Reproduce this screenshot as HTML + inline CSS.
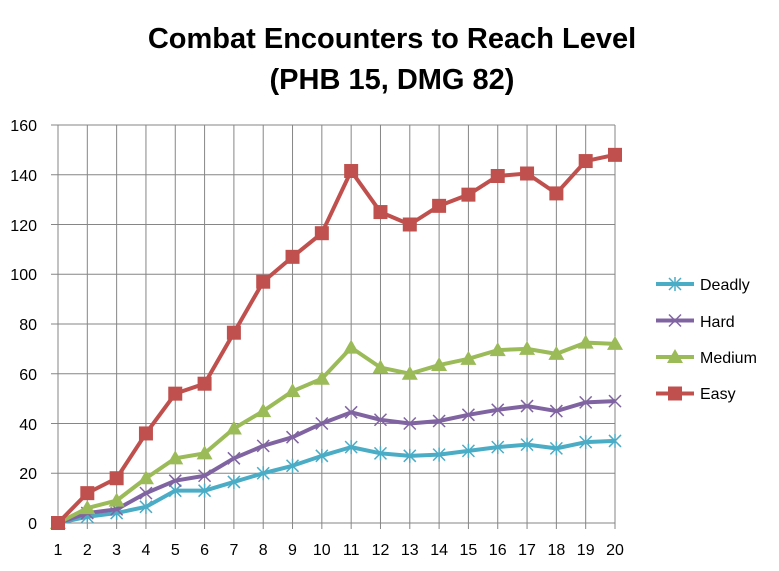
<!DOCTYPE html>
<html><head><meta charset="utf-8"><style>
body{margin:0;background:#fff;}
svg text{font-family:"Liberation Sans",sans-serif;}
</style></head><body>
<svg id="s" width="779" height="566" xmlns="http://www.w3.org/2000/svg">
<rect width="779" height="566" fill="#fff"/>
<text x="392" y="48" font-size="29" font-weight="bold" text-anchor="middle">Combat Encounters to Reach Level</text>
<text x="392" y="89" font-size="29" font-weight="bold" text-anchor="middle">(PHB 15, DMG 82)</text>
<g id="grid" stroke="#868686" stroke-width="1"></g>
<g font-size="16" text-anchor="end" fill="#000">
<text x="37" y="529">0</text><text x="37" y="479">20</text><text x="37" y="430">40</text><text x="37" y="380">60</text>
<text x="37" y="330">80</text><text x="37" y="280">100</text><text x="37" y="231">120</text><text x="37" y="181">140</text><text x="37" y="131">160</text>
</g>
<g font-size="16" text-anchor="middle" fill="#000">
<text x="58" y="555">1</text><text x="87.3" y="555">2</text><text x="116.6" y="555">3</text><text x="145.9" y="555">4</text><text x="175.3" y="555">5</text>
<text x="204.6" y="555">6</text><text x="233.9" y="555">7</text><text x="263.2" y="555">8</text><text x="292.5" y="555">9</text><text x="321.8" y="555">10</text>
<text x="351.2" y="555">11</text><text x="380.5" y="555">12</text><text x="409.8" y="555">13</text><text x="439.1" y="555">14</text><text x="468.4" y="555">15</text>
<text x="497.7" y="555">16</text><text x="527" y="555">17</text><text x="556.4" y="555">18</text><text x="585.7" y="555">19</text><text x="615" y="555">20</text>
</g>
<g id="series"></g>
<g font-size="16" fill="#000">
<text x="700" y="290">Deadly</text><text x="700" y="327">Hard</text><text x="700" y="363">Medium</text><text x="700" y="399">Easy</text>
</g>
<g id="legend"></g>
</svg>
<script>
var NS="http://www.w3.org/2000/svg";
function el(p,t,a){var e=document.createElementNS(NS,t);for(var k in a)e.setAttribute(k,a[k]);p.appendChild(e);return e;}
var g=document.getElementById('grid');
var X0=58,X1=615,Y0=523,Y1=125,step=(X1-X0)/19;
for(var i=0;i<=8;i++){var y=Y0-(Y0-Y1)*i/8;el(g,'line',{x1:51,x2:X1,y1:y,y2:y});}
for(var i=0;i<20;i++){var x=X0+i*step;el(g,'line',{x1:x,x2:x,y1:Y1,y2:Y0+6});}
function px(i){return X0+i*step}function py(v){return Y0-v*(Y0-Y1)/160}
var S=[
{c:'#4BACC6',m:'star',d:[0,2.5,4,6.5,13,13,16.5,20,23,27,30.5,28,27,27.5,29,30.5,31.5,30,32.5,33]},
{c:'#8064A2',m:'x',d:[0,4,5.5,12,17,19,26,31,34.5,40,44.5,41.5,40,41,43.5,45.5,47,45,48.5,49]},
{c:'#9BBB59',m:'tri',d:[0,6,9,18,26,28,38,45,53,58,70.5,62.5,60,63.5,66,69.5,70,68,72.5,72]},
{c:'#C0504D',m:'sq',d:[0,12,18,36,52,56,76.5,97,107,116.5,141.5,125,120,127.5,132,139.5,140.5,132.5,145.5,148]}];
var sg=document.getElementById('series'),lg=document.getElementById('legend');
function mark(p,m,c,x,y){
 if(m=='sq')el(p,'rect',{x:x-7,y:y-7,width:14,height:14,fill:c});
 else if(m=='tri')el(p,'polygon',{points:(x)+','+(y-8)+' '+(x+8)+','+(y+6)+' '+(x-8)+','+(y+6),fill:c});
 else if(m=='x'){el(p,'path',{d:'M'+(x-6)+' '+(y-6)+'L'+(x+6)+' '+(y+6)+'M'+(x-6)+' '+(y+6)+'L'+(x+6)+' '+(y-6),stroke:c,'stroke-width':1.5});}
 else{el(p,'path',{d:'M'+(x-6)+' '+(y-6)+'L'+(x+6)+' '+(y+6)+'M'+(x-6)+' '+(y+6)+'L'+(x+6)+' '+(y-6)+'M'+x+' '+(y-7)+'L'+x+' '+(y+7),stroke:c,'stroke-width':1.5});}
}
S.forEach(function(s,k){
 var pts=s.d.map(function(v,i){return px(i)+','+py(v)}).join(' ');
 el(sg,'polyline',{points:pts,fill:'none',stroke:s.c,'stroke-width':4,'stroke-linejoin':'round'});
 s.d.forEach(function(v,i){mark(sg,s.m,s.c,px(i),py(v));});
 var ly=284+k*36.5;
 el(lg,'line',{x1:656,x2:694,y1:ly,y2:ly,stroke:s.c,'stroke-width':4});
 mark(lg,s.m,s.c,675,ly);
});
</script>
</body></html>
